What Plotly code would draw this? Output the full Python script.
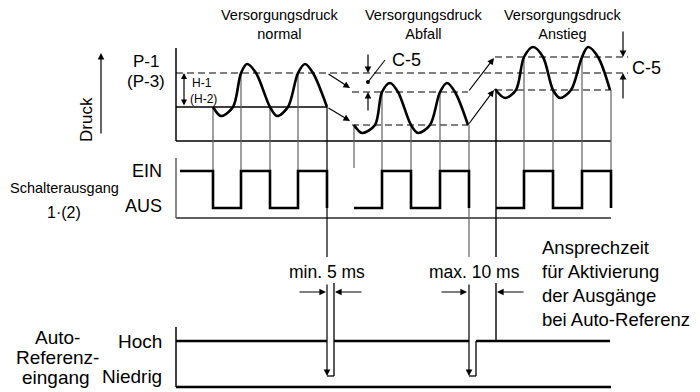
"""Schaltdiagramm: Versorgungsdruck, Schalterausgang und Auto-Referenz."""

import plotly.graph_objects as go

# --- levels (diagram units, y grows downwards) ---
P_HIGH, P_LOW = 73, 107            # normal thresholds
A_HIGH, A_LOW = 92, 125            # after pressure drop
R_HIGH, R_LOW = 57, 90             # after pressure rise
EIN, AUS = 171, 208
HOCH, NIEDRIG = 341, 376

# pressure waves, points
wave1_x = [213, 221, 233, 241, 247, 256, 270, 277, 288, 298, 305, 313, 327]
wave1_y = [107, 116, 107, 73, 64, 73, 107, 116, 107, 73, 64, 73, 107]
wave2_x = [354, 362, 375, 382, 390, 398, 411, 418, 430, 440, 447, 455, 468]
wave2_y = [125, 133, 125, 92, 83, 92, 125, 133, 125, 92, 83, 92, 125]
wave3_x = [495, 505, 516, 524, 533, 543, 553, 560, 571, 582, 588, 598, 610]
wave3_y = [89, 98, 90, 57, 47, 57, 90, 98, 90, 57, 47, 57, 90]

# switch output edges
sw1_x = [180, 213, 241, 270, 298, 327]
sw1_y = [EIN, AUS, EIN, AUS, EIN, AUS]
sw2_x = [354, 382, 411, 440, 469]
sw2_y = [AUS, EIN, AUS, EIN, AUS]
sw3_x = [496, 524, 553, 582, 611]
sw3_y = [AUS, EIN, AUS, EIN, AUS]

# crossing verticals: x, top, bottom
cross_x = [213, 241, 270, 298, 354, 382, 411, 440, 524, 553, 582, 611]
cross_top = [107, 73, 107, 73, 125, 92, 125, 92, 57, 90, 57, 90]
cross_bot = [171, 171, 171, 171, 168, 171, 171, 171, 171, 171, 171, 171]

# auto-reference input
hoch_segs = [(176, 327), (334, 469), (476, 610)]
pulses = [(327, 334), (469, 476)]

LINE = "#000000"
GREY = "#606060"
FONT = "Liberation Sans, Arial, sans-serif"

fig = go.Figure()


def seg(x0, y0, x1, y1, color=LINE, width=1.3, dash="solid"):
    fig.add_trace(go.Scatter(x=[x0, x1], y=[y0, y1], mode="lines",
                             line=dict(color=color, width=width, dash=dash),
                             hoverinfo="skip"))


# axes of the three panels
seg(176, 48, 176, 141, width=1.5)
seg(176, 141, 611, 141, width=1.5)
seg(176, 158, 176, 218, color=GREY, width=1.5)
seg(176, 218, 611, 218, color=GREY, width=2)
seg(176, 327, 176, 387, width=1.5)
seg(176, 387, 611, 387, width=2.5)

# threshold lines
seg(176, P_HIGH, 628, P_HIGH, dash="7px,4px", width=1.2)
seg(176, P_LOW, 327, P_LOW, width=1.3)
seg(352, A_HIGH, 468, A_HIGH, dash="7px,4px", width=1.2)
seg(352, A_LOW, 468, A_LOW, dash="7px,4px", width=1.2)
seg(495, R_HIGH, 628, R_HIGH, dash="7px,4px", width=1.2)
seg(495, R_LOW, 611, R_LOW, dash="7px,4px", width=1.2)

# verticals linking pressure and switch output
for x, t, b in zip(cross_x, cross_top, cross_bot):
    seg(x, t, x, b, color=GREY, width=1.2)
seg(327, P_LOW, 327, 257, width=1.2)
seg(469, A_LOW, 469, 257, color=GREY, width=1.2)
seg(496, R_LOW, 496, 257, width=1.4)
seg(496, 283, 496, HOCH, width=1.4)

# pressure waves
for wx, wy in [(wave1_x, wave1_y), (wave2_x, wave2_y), (wave3_x, wave3_y)]:
    fig.add_trace(go.Scatter(x=wx, y=wy, mode="lines",
                             line=dict(color=LINE, width=2.6, shape="spline", smoothing=0.9),
                             hoverinfo="skip"))

# switch output
for sx, sy in [(sw1_x, sw1_y), (sw2_x, sw2_y), (sw3_x, sw3_y)]:
    fig.add_trace(go.Scatter(x=sx, y=sy, mode="lines",
                             line=dict(color=LINE, width=2.6, shape="hv"),
                             hoverinfo="skip"))

# auto reference input
for x0, x1 in hoch_segs:
    seg(x0, HOCH, x1, HOCH, width=2.6)
seg(334, 283, 334, NIEDRIG, width=1.3)
seg(476, HOCH, 476, NIEDRIG, width=1.3)
for x0, x1 in pulses:
    seg(x0, NIEDRIG, x1, NIEDRIG, width=1.3)

# C-5 helper line and dot
seg(368, 82, 385, 60, width=1.1)
fig.add_trace(go.Scatter(x=[368], y=[82], mode="markers",
                         marker=dict(color=LINE, size=4), hoverinfo="skip"))

arrows = [
    ((101, 135), (101, 53)),
    ((327, 73), (350, 88)), ((327, 107), (350, 121)),
    ((468, 92), (494, 58)), ((468, 125), (494, 90)),
    ((368, 53), (368, 73)), ((368, 112), (368, 92)),
    ((623, 30), (623, 57)), ((623, 100), (623, 73)),
    ((298, 292), (326, 292)), ((363, 292), (335, 292)),
    ((440, 292), (467, 292)), ((525, 292), (497, 292)),
    ((327, 283), (327, 376)), ((469, 283), (469, 376)),
]
for (ax, ay), (x, y) in arrows:
    fig.add_annotation(x=x, y=y, ax=ax, ay=ay, xref="x", yref="y", axref="x", ayref="y",
                       text="", showarrow=True, arrowhead=2, arrowsize=1.1,
                       arrowwidth=1.2, arrowcolor=LINE, standoff=0, startstandoff=0)
fig.add_annotation(x=184, y=73, ax=184, ay=107, xref="x", yref="y", axref="x", ayref="y",
                   text="", showarrow=True, arrowhead=2, startarrowhead=2, arrowside="end+start",
                   arrowsize=1.0, arrowwidth=1.2, arrowcolor=LINE)


def label(x, y, txt, size, anchor="center", angle=0):
    fig.add_annotation(x=x, y=y, xref="x", yref="y", text=txt, showarrow=False,
                       xanchor=anchor, yanchor="middle", textangle=angle,
                       align="left" if anchor == "left" else "center",
                       font=dict(family=FONT, size=size, color=LINE))


label(280, 24, "Versorgungsdruck<br>normal", 14.5)
label(424, 24, "Versorgungsdruck<br>Abfall", 14.5)
label(563, 24, "Versorgungsdruck<br>Anstieg", 14.5)
label(146, 61, "P-1", 17)
label(146, 81, "(P-3)", 17)
label(86, 120, "Druck", 17, angle=-90)
label(202, 83, "H-1", 12)
label(203, 99, "(H-2)", 12)
label(390, 60, "C-5", 18, anchor="left")
label(630, 68, "C-5", 18, anchor="left")
label(164, 171, "EIN", 18, anchor="right")
label(164, 206, "AUS", 18, anchor="right")
label(64, 188, "Schalterausgang", 14.5)
label(64, 212, "1·(2)", 16)
label(327, 272, "min. 5 ms", 17.5)
label(474, 272, "max. 10 ms", 17.5)
label(540, 283, "Ansprechzeit<br>für Aktivierung<br>der Ausgänge<br>bei Auto-Referenz", 18.5, anchor="left")
label(164, 341, "Hoch", 19, anchor="right")
label(164, 376, "Niedrig", 19, anchor="right")
label(57, 337, "Auto-", 19)
label(57, 357, "Referenz-", 19)
label(56, 377, "eingang", 19)

fig.update_layout(
    width=700, height=392,
    margin=dict(l=0, r=0, t=0, b=0),
    paper_bgcolor="white", plot_bgcolor="white",
    showlegend=False, hovermode=False,
    xaxis=dict(range=[0, 700], visible=False, fixedrange=True),
    yaxis=dict(range=[392, 0], visible=False, fixedrange=True),
)
fig.write_html("out.html", config={"displayModeBar": False},
               post_script="document.body.style.margin='0';")
